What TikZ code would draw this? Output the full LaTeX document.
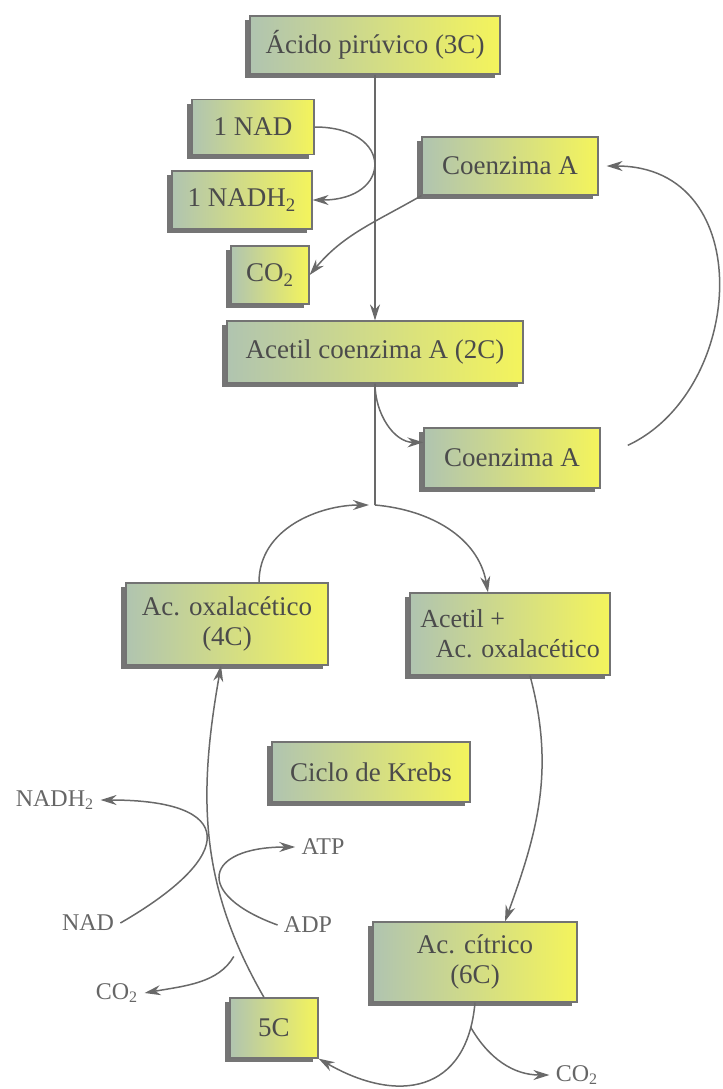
\documentclass[tikz,border=0pt]{standalone}
\usepackage{fontspec}
\setmainfont{Liberation Serif}
\usetikzlibrary{arrows.meta,shadows}

\definecolor{boxleft}{RGB}{176,196,176}
\definecolor{boxright}{RGB}{244,244,92}
\definecolor{linegray}{RGB}{105,105,105}
\definecolor{textgray}{RGB}{75,75,75}

\begin{document}
\begin{tikzpicture}[x=0.5pt,y=0.5pt,
  box node/.style={rectangle,draw=black!55,line width=0.6pt,
    left color=boxleft,right color=boxright,text=textgray,
    font=\fontsize{13.5}{15}\selectfont,align=center,inner sep=0pt,
    drop shadow={shadow xshift=-2.5pt,shadow yshift=-2pt,fill=black!60,opacity=0.9}},
  free node/.style={text=textgray!85,font=\fontsize{12}{14}\selectfont,inner sep=3pt},
  line/.style={draw=linegray,line width=0.75pt},
  arrow/.style={line,-{Stealth[length=8pt,width=5pt]}}]

  \useasboundingbox (0,0) rectangle (723,-1089);

  % glycolysis product and its oxidation
  \node[box node,minimum width=125pt,minimum height=29pt] (piruvico) at (375,-45) {Ácido pirúvico (3C)};
  \node[box node,minimum width=61pt,minimum height=27.5pt] (nad) at (253,-127) {1 NAD};
  \node[box node,minimum width=70pt,minimum height=29pt] (nadh) at (242,-200) {1 NADH\textsubscript{2}};
  \node[box node,minimum width=39pt,minimum height=29pt] (co2box) at (270,-275) {CO\textsubscript{2}};
  \node[box node,minimum width=88pt,minimum height=29pt] (coa1) at (510,-166) {Coenzima A};
  \node[box node,minimum width=148pt,minimum height=31pt] (acetil) at (375,-352) {Acetil coenzima A (2C)};
  \node[box node,minimum width=88pt,minimum height=30pt] (coa2) at (512,-458) {Coenzima A};

  % the cycle
  \node[box node,minimum width=101pt,minimum height=41pt] (oxal) at (227,-624) {Ac. oxalacético\\(4C)};
  \node[box node,minimum width=100pt,minimum height=41pt,align=left,
    font=\fontsize{13}{15}\selectfont] (acox) at (510,-634) {Acetil +\\\hspace*{0.6em}Ac. oxalacético};
  \node[box node,minimum width=99pt,minimum height=30pt] (krebs) at (371,-772) {Ciclo de Krebs};
  \node[box node,minimum width=102pt,minimum height=40pt] (citrico) at (475,-962) {Ac. cítrico\\(6C)};
  \node[box node,minimum width=44pt,minimum height=30pt] (fivec) at (274,-1028) {5C};

  \node[free node] (nadhl) at (55,-800) {NADH\textsubscript{2}};
  \node[free node] (atpl) at (323,-847) {ATP};
  \node[free node] (nadl) at (88,-923) {NAD};
  \node[free node] (adpl) at (308,-925) {ADP};
  \node[free node] (co2l) at (117,-993) {CO\textsubscript{2}};
  \node[free node] (co2r) at (577,-1075) {CO\textsubscript{2}};

  \coordinate (top) at (375,-505);

  % pyruvate -> acetyl CoA
  \draw[arrow] (piruvico) -- (acetil);
  \draw[arrow] (nad.east) to[out=0,in=0,looseness=2.8] (nadh.east);
  \draw[arrow] (coa1.south west) to[out=210,in=50] (co2box.east);
  \draw[arrow,shorten <=15pt,shorten >=4pt] (coa2.east) to[out=25,in=0,looseness=1.4] (coa1.east);
  \draw[line] (acetil.south) -- (top);
  \draw[arrow] (acetil.south) to[out=-90,in=180] (coa2.170);

  % round the cycle
  \draw[arrow,shorten >=3pt] ([xshift=16pt]oxal.north) to[out=90,in=180] (top);
  \draw[arrow] (top) to[out=-5,in=100] ([xshift=-11pt]acox.north);
  \draw[arrow] ([xshift=10pt]acox.south) to[out=-75,in=70] ([xshift=15pt]citrico.north);
  \draw[arrow] (citrico.south) to[out=-95,in=-30,looseness=1.4]
    node[coordinate,pos=0.1] (split6) {} (fivec.south east);
  \draw[arrow] (split6) to[out=-60,in=180] (co2r.west);
  \draw[arrow] ([xshift=-5pt]fivec.north) to[out=120,in=-100]
    node[coordinate,pos=0.15] (split5) {} ([xshift=-3pt]oxal.south);

  % side reactions on the way back
  \draw[arrow] (nadl.east) to[out=30,in=0,looseness=2.8] (nadhl.east);
  \draw[arrow] (adpl.west) to[out=160,in=180,looseness=2.9] (atpl.west);
  \draw[arrow,shorten <=5pt] (split5) to[out=240,in=10] (co2l.east);
\end{tikzpicture}
\end{document}
